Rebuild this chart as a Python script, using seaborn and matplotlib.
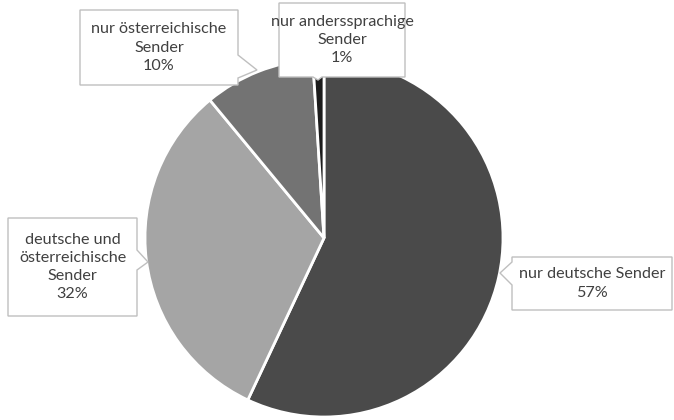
import matplotlib.pyplot as plt
import seaborn as sns
from matplotlib.patches import Polygon

categories = ["nur deutsche Sender", "deutsche und\nösterreichische\nSender",
              "nur österreichische\nSender", "nur anderssprachige\nSender"]
shares = [57, 32, 10, 1]
colors = ["#4a4a4a", "#a5a5a5", "#737373", "#1c1c1c"]

sns.set_theme(style="white")
plt.rcParams['font.family'] = ['Lato', 'DejaVu Sans']

W, H = 674, 420
fig = plt.figure(figsize=(6.74, 4.2), dpi=100)
ax = fig.add_axes([0, 0, 1, 1])

ax.pie(shares, colors=colors, startangle=90, counterclock=False,
       center=(324, H - 238), radius=179,
       wedgeprops=dict(edgecolor="white", linewidth=2))
ax.set_xlim(0, W)
ax.set_ylim(0, H)
ax.set_aspect("equal")
ax.axis("off")


def callout(box, tip, base, label):
    # box = (x0, y0, x1, y1) in pixels (y down); base = edge index + two points on it
    x0, y0, x1, y1 = box
    corners = [(x0, y0), (x1, y0), (x1, y1), (x0, y1)]
    pts = []
    for i in range(4):
        pts.append(corners[i])
        if base[0] == i:
            pts += [base[1], tip, base[2]]
    poly = Polygon([(x, H - y) for x, y in pts], closed=True,
                   facecolor="white", edgecolor="#bfbfbf", linewidth=1, zorder=5)
    ax.add_patch(poly)
    ax.text((x0 + x1) / 2, H - (y0 + y1) / 2, label, ha="center", va="center",
            fontsize=11.6, color="#404040", linespacing=1.38, zorder=6)


labels = [f"{c}\n{s}%" for c, s in zip(categories, shares)]

callout((512, 257, 672, 310), (500, 273), (3, (512, 285), (512, 262)), labels[0])
callout((8, 218, 137, 316), (148, 262), (1, (137, 250), (137, 270)), labels[1])
callout((80, 10, 238, 85), (257, 70), (1, (238, 55), (238, 78)), labels[2])
callout((279, 3, 405, 77), (318, 80), (2, (322, 77), (313, 77)), labels[3])

fig.savefig("out.png", dpi=100)
